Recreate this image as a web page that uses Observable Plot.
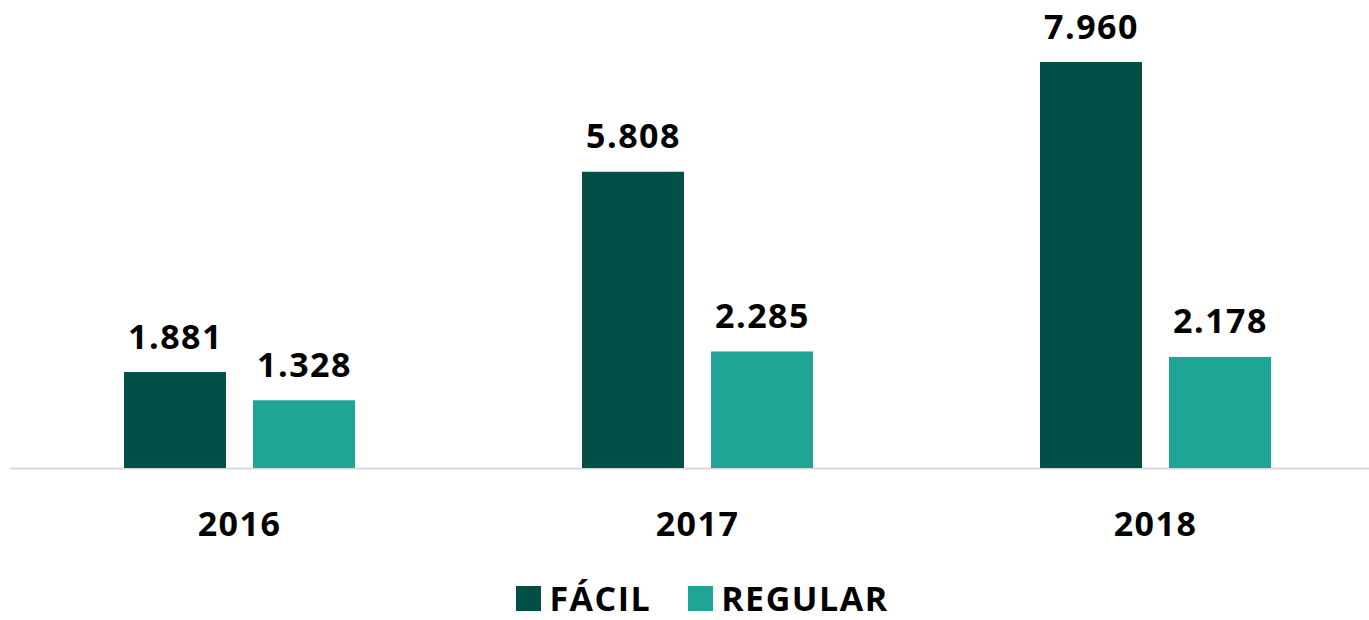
<!DOCTYPE html>
<html>
<head>
<meta charset="utf-8">
<script src="https://cdn.jsdelivr.net/npm/d3@7"></script>
<script src="https://cdn.jsdelivr.net/npm/@observablehq/plot@0.6"></script>
<style>
  html, body { margin: 0; padding: 0; background: #fff; }
  #chart { width: 1369px; font-family: "Open Sans", sans-serif; }
  #chart svg text { letter-spacing: 1.5px; }
  div.lg-swatches { display: flex; justify-content: center; padding-left: 36px; height: 40px; min-height: 40px; margin: 0; align-items: center; font-family: "Open Sans", sans-serif; font-size: 34px; line-height: 1; font-weight: 700; color: #000; letter-spacing: 1.5px; }
  div.lg-swatches .lg-swatch { margin-right: 37px; line-height: 1; }
  div.lg-swatches .lg-swatch:last-child { margin-right: 0; }
  div.lg-swatches .lg-swatch svg { margin-right: 8px; }
</style>
</head>
<body>
<div id="chart"></div>
<script>
const years = ["2016", "2017", "2018"];
const series = ["FÁCIL", "REGULAR"];
const facil = [1881, 5808, 7960];
const regular = [1328, 2285, 2178];
const colors = ["#024f47", "#1fa595"];

const data = [];
years.forEach((y, i) => {
  data.push({year: y, serie: series[0], value: facil[i]});
  data.push({year: y, serie: series[1], value: regular[i]});
});

const locale = d3.formatLocale({decimal: ",", thousands: ".", grouping: [3], currency: ["", ""]});
const fmt = locale.format(",d");

const plot = Plot.plot({
  width: 1369,
  height: 578,
  marginLeft: 10,
  marginRight: -15,
  marginTop: 62,
  marginBottom: 110,
  style: {fontFamily: "Open Sans, sans-serif", fontSize: "34px", fontWeight: 700, color: "#000", background: "#fff"},
  fx: {domain: years, padding: 0, label: null},
  x: {domain: series, paddingInner: 0.21, paddingOuter: 0.87, axis: null},
  y: {domain: [0, 7960], axis: null},
  color: {domain: series, range: colors},
  marks: [
    Plot.ruleY([0], {stroke: "#d9d9d9", strokeWidth: 2}),
    Plot.barY(data, {fx: "year", x: "serie", y: "value", fill: "serie"}),
    Plot.text(data, {fx: "year", x: "serie", y: "value", text: d => fmt(d.value), lineAnchor: "bottom", dy: -24, fill: "#000", fontSize: 34, fontWeight: 700}),
    Plot.axisFx({anchor: "bottom", tickSize: 0, tickPadding: 43, fontSize: 34, fontWeight: 700, label: null})
  ]
});

const legend = Plot.legend({
  color: {domain: series, range: colors},
  swatchSize: 25,
  className: "lg"
});

const c = document.getElementById("chart");
c.appendChild(plot);
c.appendChild(legend);
</script>
</body>
</html>
